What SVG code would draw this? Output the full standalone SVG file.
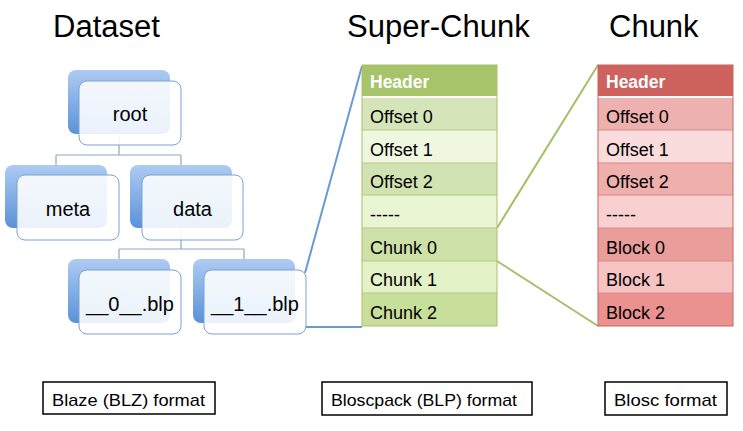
<svg xmlns="http://www.w3.org/2000/svg" width="743" height="431" viewBox="0 0 743 431">
<defs>
<linearGradient id="shadowGrad" x1="0" y1="0" x2="0" y2="1">
<stop offset="0" stop-color="#AECBF2"/>
<stop offset="1" stop-color="#5A92D8"/>
</linearGradient>
<style>
.title{font-family:"Liberation Sans",Arial,sans-serif;font-size:31px;fill:#000}
.node-shadow{fill:url(#shadowGrad)}
.node-front{fill:#ffffff;fill-opacity:0.88;stroke:#7BA3D4;stroke-width:1}
.node-text{font-family:"Liberation Sans",Arial,sans-serif;font-size:20px;fill:#000;text-anchor:middle}
.tree-line{fill:none;stroke:#8EA6C4;stroke-width:1.2}
.row-text{font-family:"Liberation Sans",Arial,sans-serif;font-size:18px;fill:#000}
.hdr-text{font-family:"Liberation Sans",Arial,sans-serif;font-size:17.5px;font-weight:bold;fill:#fff}
.g-sep{stroke:#B3CB80;stroke-width:1}
.r-sep{stroke:#D98A88;stroke-width:1}
.white-sep{stroke:#fff;stroke-width:2}
.blue-link{fill:none;stroke:#6A9AD2;stroke-width:2}
.green-link{fill:none;stroke:#A3C167;stroke-width:2}
.label-box{fill:#fff;stroke:#000;stroke-width:1.5}
.label-text{font-family:"Liberation Sans",Arial,sans-serif;font-size:17px;fill:#000}
</style>
</defs>
<rect width="743" height="431" fill="#fff"/>

<text class="title" x="53" y="37">Dataset</text>
<text class="title" x="347" y="37">Super-Chunk</text>
<text class="title" x="609" y="37">Chunk</text>

<g id="connectors">
<path class="tree-line" d="M119 134 V155 M56 155 H181 M56 155 V165 M181 155 V165"/>
<path class="tree-line" d="M181 228 V249 M119 249 H244 M119 249 V259 M244 249 V259"/>
<path class="blue-link" d="M305 273 L362 66"/>
<path class="blue-link" d="M306 327 H362"/>
<path class="green-link" d="M497 228 L598 65"/>
<path class="green-link" d="M497 261 L598 326"/>
</g>

<g id="node-root">
<rect class="node-shadow" x="68" y="70" width="102" height="64" rx="8"/>
<rect class="node-front" x="79" y="81" width="102" height="64" rx="8"/>
<text class="node-text" x="130" y="121">root</text>
</g>
<g id="node-meta">
<rect class="node-shadow" x="5" y="165" width="102" height="63" rx="8"/>
<rect class="node-front" x="17" y="175" width="102" height="65" rx="8"/>
<text class="node-text" x="68" y="216">meta</text>
</g>
<g id="node-data">
<rect class="node-shadow" x="130" y="165" width="102" height="63" rx="8"/>
<rect class="node-front" x="142" y="175" width="101" height="65" rx="8"/>
<text class="node-text" x="192.5" y="216">data</text>
</g>
<g id="node-blp0">
<rect class="node-shadow" x="68" y="259" width="102" height="64" rx="8"/>
<rect class="node-front" x="79" y="270" width="102" height="64" rx="8"/>
<text class="node-text" x="130" y="311">__0__.blp</text>
</g>
<g id="node-blp1">
<rect class="node-shadow" x="193" y="259" width="102" height="64" rx="8"/>
<rect class="node-front" x="204" y="270" width="102" height="64" rx="8"/>
<text class="node-text" x="255" y="311">__1__.blp</text>
</g>

<g id="super-chunk">
<rect x="362" y="65" width="135" height="32" fill="#A8C46B"/>
<rect x="362" y="97" width="135" height="33" fill="#D6E5B9"/>
<rect x="362" y="130" width="135" height="33" fill="#EFF7E0"/>
<rect x="362" y="163" width="135" height="32" fill="#D2E3B3"/>
<rect x="362" y="195" width="135" height="33" fill="#E9F5D3"/>
<rect x="362" y="228" width="135" height="33" fill="#CEE1A8"/>
<rect x="362" y="261" width="135" height="32" fill="#E3F2C7"/>
<rect x="362" y="293" width="135" height="33" fill="#C8DE9B"/>
<path class="g-sep" d="M362 130 H497 M362 163 H497 M362 195 H497 M362 228 H497 M362 261 H497 M362 293 H497"/>
<path class="white-sep" d="M362 97 H497"/>
<rect x="362" y="65" width="135" height="261" fill="none" stroke="#A6C26A" stroke-width="1"/>
<text class="hdr-text" x="370" y="88">Header</text>
<text class="row-text" x="370" y="123">Offset 0</text>
<text class="row-text" x="370" y="156">Offset 1</text>
<text class="row-text" x="370" y="188">Offset 2</text>
<text class="row-text" x="370" y="221">-----</text>
<text class="row-text" x="370" y="254">Chunk 0</text>
<text class="row-text" x="370" y="286">Chunk 1</text>
<text class="row-text" x="370" y="319">Chunk 2</text>
</g>

<g id="chunk">
<rect x="598" y="65" width="135" height="32" fill="#CD625E"/>
<rect x="598" y="97" width="135" height="33" fill="#EDB1AF"/>
<rect x="598" y="130" width="135" height="33" fill="#F9DCDB"/>
<rect x="598" y="163" width="135" height="32" fill="#EEAFAD"/>
<rect x="598" y="195" width="135" height="33" fill="#F7D0CF"/>
<rect x="598" y="228" width="135" height="33" fill="#EA9E9C"/>
<rect x="598" y="261" width="135" height="32" fill="#F6C3C2"/>
<rect x="598" y="293" width="135" height="33" fill="#EA9290"/>
<path class="r-sep" d="M598 130 H733 M598 163 H733 M598 195 H733 M598 228 H733 M598 261 H733 M598 293 H733"/>
<path class="white-sep" d="M598 97 H733"/>
<rect x="598" y="65" width="135" height="261" fill="none" stroke="#CC6461" stroke-width="1"/>
<text class="hdr-text" x="606" y="88">Header</text>
<text class="row-text" x="606" y="123">Offset 0</text>
<text class="row-text" x="606" y="156">Offset 1</text>
<text class="row-text" x="606" y="188">Offset 2</text>
<text class="row-text" x="606" y="221">-----</text>
<text class="row-text" x="606" y="254">Block 0</text>
<text class="row-text" x="606" y="286">Block 1</text>
<text class="row-text" x="606" y="319">Block 2</text>
</g>

<g id="label-blz">
<rect class="label-box" x="43" y="382" width="172" height="32"/>
<text class="label-text" x="52" y="406" textLength="153" lengthAdjust="spacingAndGlyphs">Blaze (BLZ) format</text>
</g>
<g id="label-blp">
<rect class="label-box" x="322" y="382" width="210" height="33"/>
<text class="label-text" x="331" y="406" textLength="186" lengthAdjust="spacingAndGlyphs">Bloscpack (BLP) format</text>
</g>
<g id="label-blosc">
<rect class="label-box" x="605" y="382" width="122" height="33"/>
<text class="label-text" x="614" y="406" textLength="103" lengthAdjust="spacingAndGlyphs">Blosc format</text>
</g>
</svg>
